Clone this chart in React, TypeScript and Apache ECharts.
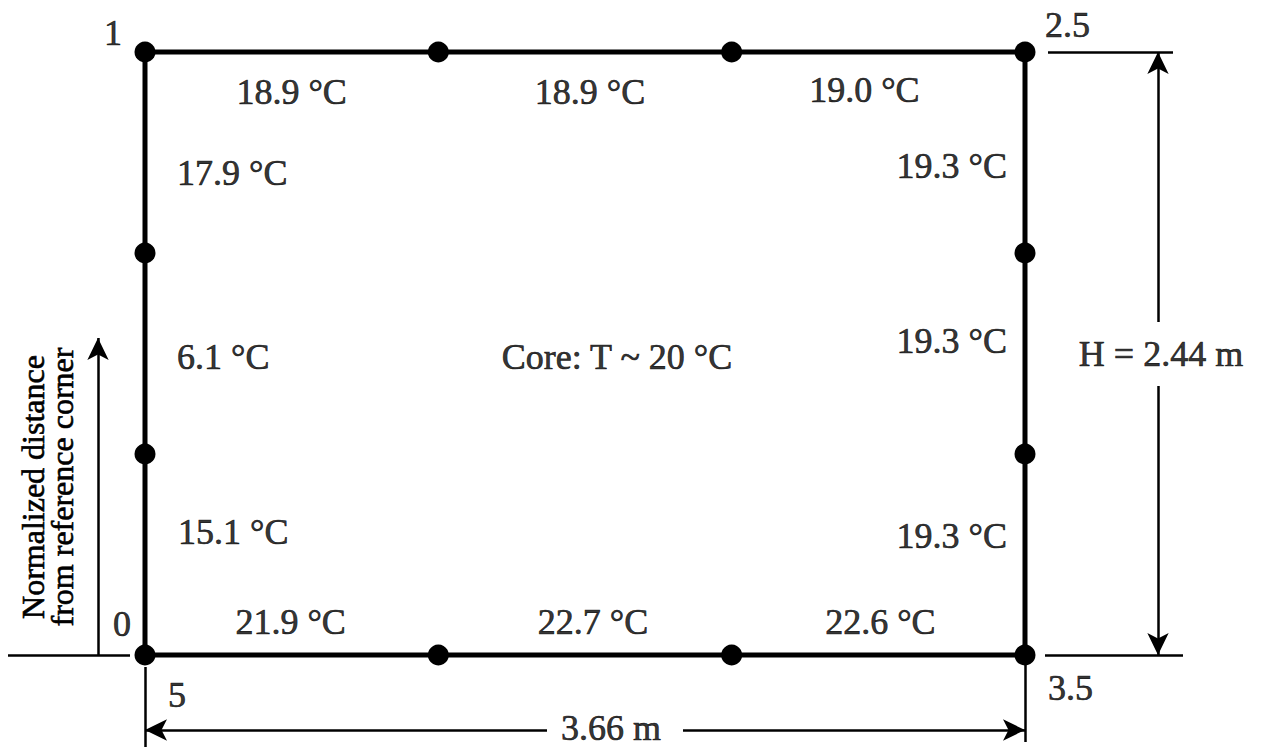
import React, { useEffect, useRef } from "react";
import * as echarts from "echarts";

// ---- data ----
const W = 3.66; // room width, m
const H = 2.44; // room height, m
const sensorFractions = [0, 1 / 3, 2 / 3, 1];
const cornerDistances = ["0", "1", "2.5", "3.5", "5"]; // normalized distance at BL, TL, TR, BR, BL(again)
const topTemps = [18.9, 18.9, 19.0]; // left -> right
const bottomTemps = [21.9, 22.7, 22.6]; // left -> right
const leftTemps = [15.1, 6.1, 17.9]; // bottom -> top
const rightTemps = [19.3, 19.3, 19.3]; // bottom -> top
const coreTemp = 20;
const widthLabel = "3.66 m";
const heightLabel = "H = 2.44 m";
const axisTitle = "Normalized distance\nfrom reference corner";

// ---- layout (pixel scale of the drawing) ----
const PW = 1268;
const PH = 751;
const X0 = 145;
const Y0 = 655;
const SX = 880 / W;
const SY = 603 / H;
const dx = (p: number) => p / SX;
const dy = (p: number) => p / SY;
const FONT = '"Liberation Serif", "DejaVu Serif", serif';

// label nudges (pixels)
const topNudge = [[0, 40], [5, 40], [-14, 38]];
const bottomNudge = [[-1, -33], [8, -33], [2, -33]];
const leftNudge = [[33, -23], [32, 3], [32, 20]];
const rightNudge = [[-18, -19], [-18, -13], [-18, 13]];

function buildOption() {
  const fmt = (t: number) => `${t.toFixed(1)} °C`;
  const f = sensorFractions;

  const perimeter = [[0, 0], [0, H], [W, H], [W, 0], [0, 0]];

  const sensors: number[][] = [];
  f.forEach((v) => {
    sensors.push([v * W, H]);
    sensors.push([v * W, 0]);
  });
  [f[1], f[2]].forEach((v) => {
    sensors.push([0, v * H]);
    sensors.push([W, v * H]);
  });

  const labels: any[] = [];
  const mid = (i: number) => (f[i] + f[i + 1]) / 2;
  topTemps.forEach((t, i) =>
    labels.push({ name: fmt(t), value: [mid(i) * W, H], label: { offset: topNudge[i], align: "center" } })
  );
  bottomTemps.forEach((t, i) =>
    labels.push({ name: fmt(t), value: [mid(i) * W, 0], label: { offset: bottomNudge[i], align: "center" } })
  );
  leftTemps.forEach((t, i) =>
    labels.push({ name: fmt(t), value: [0, mid(i) * H], label: { offset: leftNudge[i], align: "left" } })
  );
  rightTemps.forEach((t, i) =>
    labels.push({ name: fmt(t), value: [W, mid(i) * H], label: { offset: rightNudge[i], align: "right" } })
  );
  labels.push({ name: `Core: T ~ ${coreTemp} °C`, value: [W / 2, H / 2], label: { offset: [32, 3], align: "center" } });

  // corner normalized distances
  labels.push({ name: cornerDistances[0], value: [0, 0], label: { offset: [-23, -31], align: "center" } });
  labels.push({ name: cornerDistances[1], value: [0, H], label: { offset: [-32, -19], align: "center" } });
  labels.push({ name: cornerDistances[2], value: [W, H], label: { offset: [20, -27], align: "left" } });
  labels.push({ name: cornerDistances[3], value: [W, 0], label: { offset: [23, 33], align: "left" } });
  labels.push({ name: cornerDistances[4], value: [0, 0], label: { offset: [23, 40], align: "left" } });

  // dimension texts
  const dimY = dy(-75);
  const dimX = W + dx(133);
  labels.push({ name: widthLabel, value: [W / 2, dimY], label: { offset: [26, -2], align: "center" } });
  labels.push({ name: heightLabel, value: [dimX, H / 2], label: { offset: [3, 0], align: "center" } });

  const seg = (a: number[], b: number[], sa = "none", sb = "none") => [
    { coord: a, symbol: sa },
    { coord: b, symbol: sb },
  ];
  const arrowX = dx(98 - X0);
  const markData = [
    seg([dx(8 - X0), 0], [dx(-15), 0]),
    seg([arrowX, 0], [arrowX, dy(Y0 - 338)], "none", "arrow"),
    seg([0, dy(-12)], [0, dy(-92)]),
    seg([W, dy(-10)], [W, dy(-87)]),
    seg([dx(547 - X0), dimY], [0, dimY], "none", "arrow"),
    seg([dx(683 - X0), dimY], [W, dimY], "none", "arrow"),
    seg([W + dx(23), H], [W + dx(148), H]),
    seg([W + dx(20), 0], [W + dx(158), 0]),
    seg([dimX, dy(Y0 - 322)], [dimX, H], "none", "arrow"),
    seg([dimX, dy(Y0 - 386)], [dimX, 0], "none", "arrow"),
  ];

  return {
    animation: false,
    backgroundColor: "#ffffff",
    grid: { left: 0, right: 0, top: 0, bottom: 0, containLabel: false },
    xAxis: {
      type: "value",
      min: dx(-X0),
      max: dx(PW - X0),
      show: false,
      splitLine: { show: false },
    },
    yAxis: {
      type: "value",
      min: dy(-(PH - Y0)),
      max: dy(Y0),
      show: false,
      splitLine: { show: false },
    },
    graphic: [
      {
        type: "text",
        x: 47,
        y: 487,
        rotation: Math.PI / 2,
        style: {
          text: axisTitle,
          fontFamily: FONT,
          fontSize: 32,
          lineHeight: 29,
          fill: "#000",
          stroke: "#000",
          lineWidth: 0.6,
          align: "center",
          verticalAlign: "middle",
        },
      },
    ],
    series: [
      {
        type: "line",
        name: "walls",
        data: perimeter,
        symbol: "none",
        silent: true,
        lineStyle: { color: "#000", width: 5 },
        z: 2,
        markLine: {
          silent: true,
          symbol: ["none", "none"],
          symbolSize: [16, 22],
          label: { show: false },
          emphasis: { disabled: true },
          lineStyle: { color: "#000", width: 2.5, type: "solid", opacity: 1 },
          data: markData,
        },
      },
      {
        type: "scatter",
        name: "sensors",
        data: sensors,
        symbolSize: 21,
        silent: true,
        itemStyle: { color: "#000", opacity: 1 },
        z: 3,
      },
      {
        type: "scatter",
        name: "labels",
        data: labels,
        symbolSize: 1,
        silent: true,
        itemStyle: { color: "rgba(0,0,0,0)" },
        label: {
          show: true,
          position: "inside",
          formatter: "{b}",
          fontFamily: FONT,
          fontSize: 36,
          color: "#000",
          textBorderColor: "#000",
          textBorderWidth: 0.7,
        },
        z: 4,
      },
    ],
  };
}

export default function App() {
  const ref = useRef<HTMLDivElement>(null);
  useEffect(() => {
    if (!ref.current) return;
    const chart = echarts.init(ref.current, undefined, { renderer: "svg" });
    chart.setOption(buildOption() as any);
    return () => chart.dispose();
  }, []);
  return (
    <div
      ref={ref}
      style={{ position: "fixed", left: 0, top: 0, width: PW, height: PH, background: "#fff" }}
    />
  );
}
